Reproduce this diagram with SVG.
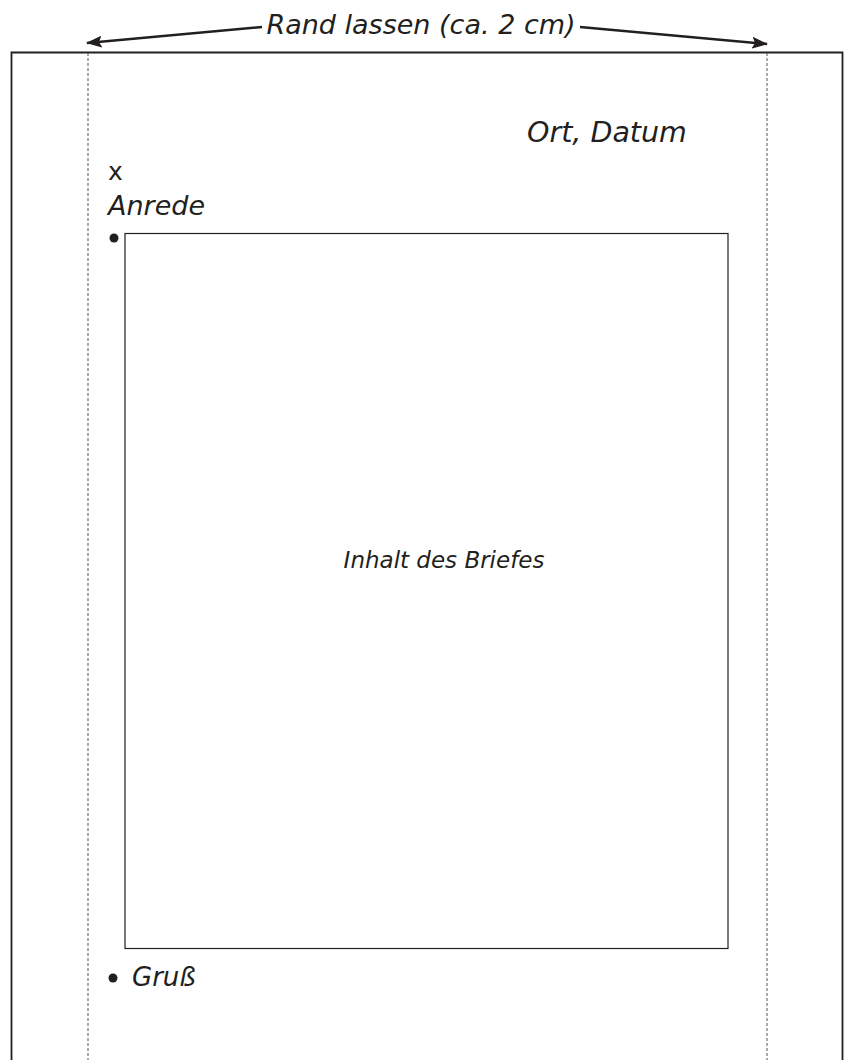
<svg xmlns="http://www.w3.org/2000/svg" width="845" height="1060" viewBox="0 0 845 1060">
<style>
text{font-family:"DejaVu Sans","Noto Sans",sans-serif;fill:#231f20}
.it{font-style:italic}
.page{fill:none;stroke:#231f20;stroke-width:1.8}
.dash{stroke:#555;stroke-width:1;stroke-dasharray:3,2;fill:none}
.arr{stroke:#231f20;stroke-width:2.5;fill:none;marker-end:url(#ah)}
</style>
<defs>
<marker id="ah" viewBox="0 0 16 12" refX="15" refY="6" markerWidth="16" markerHeight="12" markerUnits="userSpaceOnUse" orient="auto">
<path d="M0,0 L16,6 L0,12 L3,6 Z" fill="#231f20"/>
</marker>
</defs>
<rect width="845" height="1060" fill="#fff"/>
<g id="page">
<path class="page" d="M11.5,1060 V52.5 H842.5 V1060"/>
</g>
<g id="margins">
<line class="dash" x1="88" y1="53" x2="88" y2="1060"/>
<line class="dash" x1="767" y1="53" x2="767" y2="1060"/>
</g>
<g id="connectors">
<line class="arr" x1="262" y1="27" x2="87" y2="43"/>
<line class="arr" x1="580" y1="27" x2="767" y2="44"/>
</g>
<g id="rand"><text class="it" x="421" y="34" font-size="27" text-anchor="middle">Rand lassen (ca. 2 cm)</text></g>
<g id="ort"><text class="it" x="527" y="142" font-size="28.5">Ort, Datum</text></g>
<g id="x"><text x="108" y="180" font-size="25">x</text></g>
<g id="anrede"><text class="it" x="108" y="215" font-size="27">Anrede</text></g>
<g id="bullet1"><circle cx="114" cy="238" r="4.5" fill="#231f20"/></g>
<g id="inhalt">
<rect x="125" y="233.5" width="603" height="715" fill="none" stroke="#231f20" stroke-width="1.2"/>
<text class="it" x="444" y="568" font-size="23" text-anchor="middle">Inhalt des Briefes</text>
</g>
<g id="gruss">
<circle cx="113" cy="978" r="4.5" fill="#231f20"/>
<text class="it" x="132" y="986" font-size="26">Gruß</text>
</g>
</svg>
